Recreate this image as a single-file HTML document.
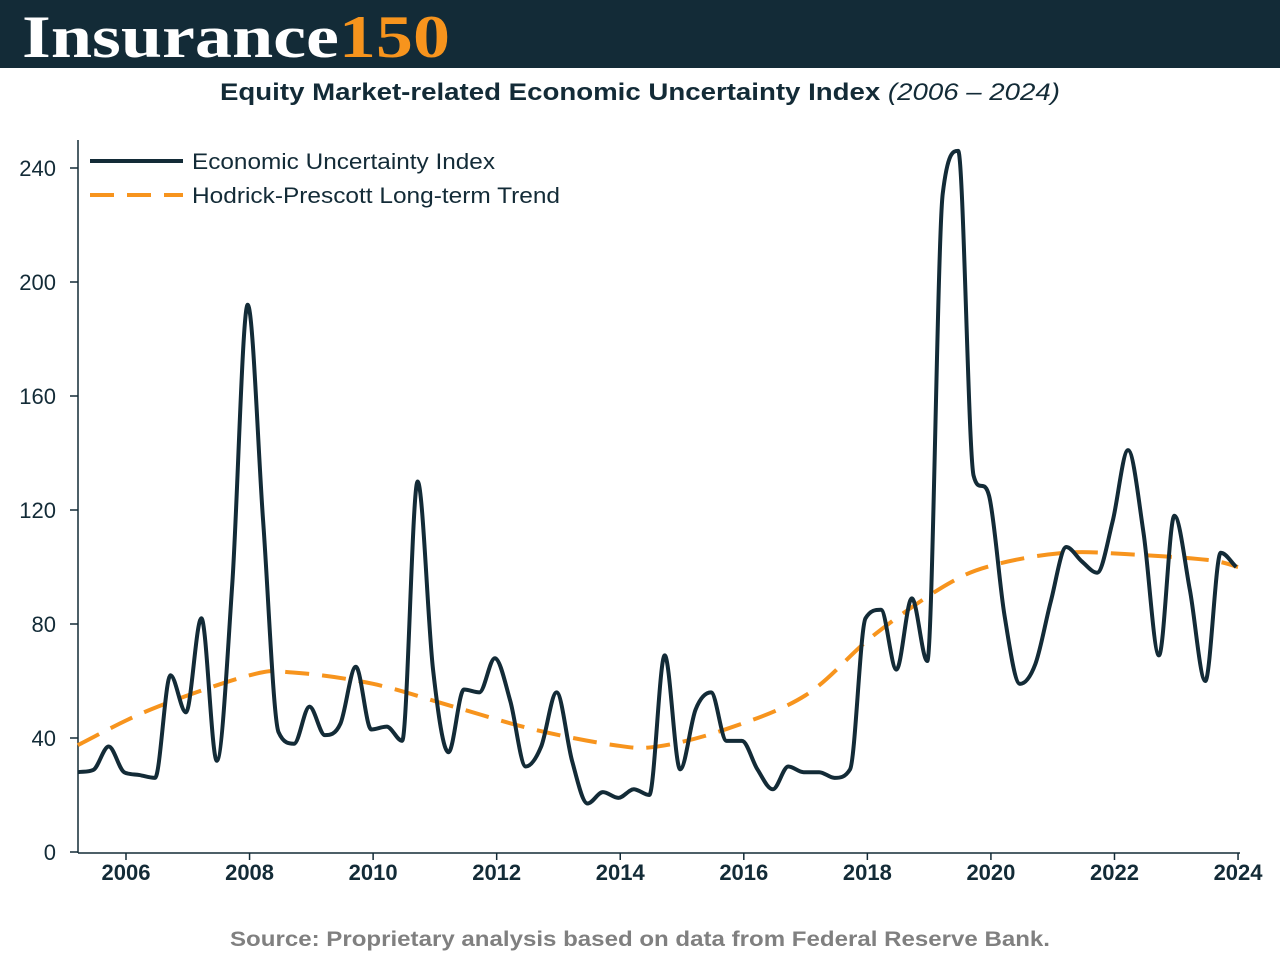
<!DOCTYPE html>
<html><head><meta charset="utf-8"><style>
body{margin:0;width:1280px;height:960px;background:#fff;overflow:hidden;font-family:"Liberation Sans",sans-serif}
</style></head><body>
<svg width="1280" height="960">
<rect x="0" y="0" width="1280" height="68" fill="#132b37"/>
<text x="22" y="57" font-family="Liberation Serif,serif" font-weight="bold" font-size="60" fill="#fff" textLength="428" lengthAdjust="spacingAndGlyphs">Insurance<tspan fill="#f7941d">150</tspan></text>
<text x="220" y="100" font-size="24" font-weight="bold" fill="#132b37" textLength="840" lengthAdjust="spacingAndGlyphs">Equity Market-related Economic Uncertainty Index <tspan font-weight="normal" font-style="italic">(2006 – 2024)</tspan></text>
<g id="axes"></g>
<g id="marks"></g>
<text x="230" y="946" font-size="21" font-weight="bold" fill="#808080" textLength="820" lengthAdjust="spacingAndGlyphs">Source: Proprietary analysis based on data from Federal Reserve Bank.</text>
</svg>
<script>
const yTicks=[0,40,80,120,160,200,240];
const xTicks=[2006,2008,2010,2012,2014,2016,2018,2020,2022,2024];
const startYear=2005.22;
const stepYears=0.25;
const indexValues=[28,28.8,37,28,27,26,62,49,82,32,94,192,116,42,38,51,41,45,65,43,44,39,130,64,35,57,56,68,53,30,37,56,32,17,21,19,22,20,69,29,50,56,39,39,29,22,30,28,28,26,29,82,85,64,89,67,231,246,132,125,83,59,66,88,107,102,98,116,141,112,69,118,92,60,105,100];
const trendYears=[2005.22,2006.4,2008,2008.7,2010,2011.3,2012.6,2013.9,2014.6,2015.7,2017,2018.1,2019.3,2020.1,2021.2,2022.2,2023.5,2024];
const trendValues=[37.5,50,62,63,59,51,43,37.5,37,43,55,76,94,101,105,104.5,102.5,100];
const NS='http://www.w3.org/2000/svg';
const X=y=>126+(y-2006)*61.78;
const Y=v=>852-v*2.85;
function el(t,a,p){const e=document.createElementNS(NS,t);for(const k in a)e.setAttribute(k,a[k]);p.appendChild(e);return e;}
const ax=document.getElementById('axes'),mk=document.getElementById('marks');
let e=el('line',{x1:78,y1:140,x2:78,y2:853,stroke:'#132b37','stroke-width':1.5},ax);


e=el('line',{x1:78,y1:853,x2:1240,y2:853,stroke:'#132b37','stroke-width':1.5},ax);


yTicks.forEach(v=>{
 el('line',{x1:70,x2:78,y1:Y(v),y2:Y(v),stroke:'#132b37','stroke-width':1.5},ax);
 const t=el('text',{x:56,y:Y(v)+8,'text-anchor':'end','font-size':22,fill:'#132b37'},ax);
 t.textContent=v;
 
 
});
xTicks.forEach(v=>{
 el('line',{x1:X(v),x2:X(v),y1:853,y2:860,stroke:'#132b37','stroke-width':1.5},ax);
 const t=el('text',{x:X(v),y:880,'text-anchor':'middle','font-size':22,'font-weight':'bold',fill:'#132b37'},ax);
 t.textContent=v;
 
 
});
function smooth(pts){
 let d='M'+pts[0][0]+','+pts[0][1];
 for(let i=0;i<pts.length-1;i++){
  const p0=pts[Math.max(0,i-1)],p1=pts[i],p2=pts[i+1],p3=pts[Math.min(pts.length-1,i+2)];
  const c1=[p1[0]+(p2[0]-p0[0])/6,p1[1]+(p2[1]-p0[1])/6],c2=[p2[0]-(p3[0]-p1[0])/6,p2[1]-(p3[1]-p1[1])/6];
  d+=`C${c1[0]},${c1[1]} ${c2[0]},${c2[1]} ${p2[0]},${p2[1]}`;
 }
 return d;
}
function monotone(pts){
 const n=pts.length,dx=[],s=[],m=[];
 for(let i=0;i<n-1;i++){dx[i]=pts[i+1][0]-pts[i][0];s[i]=(pts[i+1][1]-pts[i][1])/dx[i];}
 m[0]=s[0];m[n-1]=s[n-2];
 for(let i=1;i<n-1;i++){m[i]=(s[i-1]*s[i]<=0)?0:(s[i-1]+s[i])/2;
  const a=m[i]/s[i-1],b=m[i]/s[i];if(a*a+b*b>9){const t=3/Math.sqrt(a*a+b*b);m[i]=t*m[i];}}
 let d='M'+pts[0][0]+','+pts[0][1];
 for(let i=0;i<n-1;i++){const h=dx[i]/3;
  d+=`C${pts[i][0]+h},${pts[i][1]+m[i]*h} ${pts[i+1][0]-h},${pts[i+1][1]-m[i+1]*h} ${pts[i+1][0]},${pts[i+1][1]}`;}
 return d;
}
const ip=indexValues.map((v,i)=>[X(startYear+i*stepYears),Y(v)]);
const tp=trendValues.map((v,i)=>[X(trendYears[i]),Y(v)]);
e=el('path',{d:smooth(tp),fill:'none',stroke:'#f7941d','stroke-width':4,'stroke-dasharray':'24 13'},mk);


e=el('path',{d:monotone(ip),fill:'none',stroke:'#132b37','stroke-width':4,'stroke-linejoin':'round'},mk);


const lg=el('g',{},mk);


el('line',{x1:90,x2:183,y1:161,y2:161,stroke:'#132b37','stroke-width':4},lg);
el('line',{x1:90,x2:183,y1:195,y2:195,stroke:'#f7941d','stroke-width':4,'stroke-dasharray':'24 13'},lg);
let t=el('text',{x:192,y:169,'font-size':22,fill:'#132b37',textLength:303,lengthAdjust:'spacingAndGlyphs'},lg);t.textContent='Economic Uncertainty Index';


t=el('text',{x:192,y:203,'font-size':22,fill:'#132b37',textLength:368,lengthAdjust:'spacingAndGlyphs'},lg);t.textContent='Hodrick-Prescott Long-term Trend';


</script>
</body></html>
